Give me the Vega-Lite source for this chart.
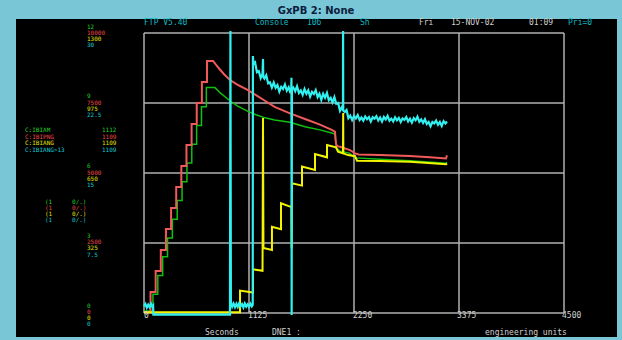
{
"$schema": "https://vega.github.io/schema/vega-lite/v6.json",
"autosize": "none",
"width": 601,
"height": 318,
"padding": {"left": 16, "top": 19, "right": 5, "bottom": 3},
"background": "#78c6d6",
"config": {"view": {"fill": "#000000", "stroke": null}, "text": {"font": "DejaVu Sans Mono", "fontSize": 8}},
"datasets": {
"grid": [
{"t":0,"t2":0,"v":0,"v2":100},{"t":1125,"t2":1125,"v":0,"v2":100},{"t":2250,"t2":2250,"v":0,"v2":100},{"t":3375,"t2":3375,"v":0,"v2":100},{"t":4500,"t2":4500,"v":0,"v2":100},
{"t":0,"t2":4500,"v":0,"v2":0},{"t":0,"t2":4500,"v":25,"v2":25},{"t":0,"t2":4500,"v":50,"v2":50},{"t":0,"t2":4500,"v":75,"v2":75},{"t":0,"t2":4500,"v":100,"v2":100}
],
"green": [
{"t":0,"v":0.7},{"t":96,"v":0.7},{"t":96,"v":6.7},{"t":148,"v":6.7},{"t":148,"v":13.4},{"t":200,"v":13.4},{"t":200,"v":20.1},{"t":252,"v":20.1},{"t":252,"v":26.8},{"t":304,"v":26.8},{"t":304,"v":33.5},{"t":356,"v":33.5},{"t":356,"v":40.2},{"t":408,"v":40.2},{"t":408,"v":46.9},{"t":460,"v":46.9},{"t":460,"v":53.6},{"t":512,"v":53.6},{"t":512,"v":60.3},{"t":564,"v":60.3},{"t":564,"v":67},{"t":616,"v":67},{"t":616,"v":73.7},{"t":668,"v":73.7},{"t":668,"v":80.5},{"t":760,"v":80.5},{"t":820,"v":78.5},{"t":921,"v":75.8},{"t":1000,"v":74.0},{"t":1114,"v":72.0},{"t":1200,"v":70.8},{"t":1296,"v":69.7},{"t":1400,"v":68.9},{"t":1564,"v":68.1},{"t":1725,"v":66.5},{"t":1886,"v":65.4},{"t":2000,"v":64.4},{"t":2046,"v":63.9},{"t":2060,"v":59.0},{"t":2100,"v":57.8},{"t":2200,"v":57.1},{"t":2261,"v":55.4},{"t":2529,"v":54.9},{"t":2850,"v":54.4},{"t":3236,"v":53.5},{"t":3246,"v":53.8}
],
"red": [
{"t":0,"v":0.3},{"t":70,"v":0.3},{"t":70,"v":7.5},{"t":125,"v":7.5},{"t":125,"v":15},{"t":180,"v":15},{"t":180,"v":22.5},{"t":235,"v":22.5},{"t":235,"v":30},{"t":290,"v":30},{"t":290,"v":37.5},{"t":345,"v":37.5},{"t":345,"v":45},{"t":400,"v":45},{"t":400,"v":52.5},{"t":455,"v":52.5},{"t":455,"v":60},{"t":510,"v":60},{"t":510,"v":67.5},{"t":565,"v":67.5},{"t":565,"v":75},{"t":620,"v":75},{"t":620,"v":82.5},{"t":675,"v":82.5},{"t":675,"v":90},{"t":740,"v":90},{"t":800,"v":87.5},{"t":860,"v":85.2},{"t":921,"v":83.2},{"t":1000,"v":81.6},{"t":1114,"v":79.6},{"t":1200,"v":77.8},{"t":1296,"v":75.8},{"t":1400,"v":73.6},{"t":1564,"v":71.3},{"t":1725,"v":69.3},{"t":1886,"v":67.3},{"t":2000,"v":65.6},{"t":2046,"v":64.8},{"t":2057,"v":60.5},{"t":2070,"v":59.6},{"t":2100,"v":59.4},{"t":2207,"v":58.2},{"t":2261,"v":57.0},{"t":2300,"v":56.6},{"t":2529,"v":56.4},{"t":2850,"v":56.1},{"t":3064,"v":55.6},{"t":3236,"v":55.2},{"t":3246,"v":56.3}
],
"yellow": [
{"t":0,"v":0.25},{"t":1029,"v":0.25},{"t":1029,"v":8.0},{"t":1168,"v":7.3},{"t":1168,"v":15.6},{"t":1270,"v":15.1},{"t":1275,"v":69.6},{"t":1280,"v":23.2},{"t":1371,"v":22.5},{"t":1371,"v":30.8},{"t":1468,"v":29.9},{"t":1468,"v":39.2},{"t":1564,"v":38.0},{"t":1580,"v":38.0},{"t":1582,"v":23.1},{"t":1586,"v":46.3},{"t":1693,"v":45.5},{"t":1693,"v":52.3},{"t":1832,"v":51.1},{"t":1832,"v":56.8},{"t":1961,"v":55.6},{"t":1961,"v":60.0},{"t":2057,"v":59.2},{"t":2079,"v":57.6},{"t":2132,"v":57.0},{"t":2134,"v":71.4},{"t":2136,"v":57.0},{"t":2186,"v":56.4},{"t":2261,"v":56.0},{"t":2282,"v":54.4},{"t":2529,"v":54.3},{"t":2850,"v":54.0},{"t":3236,"v":53.1},{"t":3246,"v":53.4}
],
"cyan": [
{"t":0,"v":2.4},{"t":15,"v":3.2},{"t":30,"v":1.9},{"t":45,"v":3.0},{"t":60,"v":2.1},{"t":75,"v":3.3},{"t":90,"v":2.2},{"t":98,"v":2.6},{"t":100,"v":-0.6},{"t":921,"v":-0.6},{"t":926,"v":100.7},{"t":931,"v":3.8},{"t":945,"v":2.3},{"t":960,"v":3.4},{"t":975,"v":2.1},{"t":990,"v":3.3},{"t":1005,"v":2.2},{"t":1020,"v":3.5},{"t":1035,"v":2.4},{"t":1050,"v":3.2},{"t":1065,"v":2.0},{"t":1080,"v":3.4},{"t":1095,"v":2.3},{"t":1110,"v":3.1},{"t":1125,"v":2.2},{"t":1140,"v":3.3},{"t":1155,"v":2.4},{"t":1165,"v":2.9},{"t":1167,"v":91.8},{"t":1172,"v":89.0},
{"t":1190,"v":89.5},{"t":1210,"v":86.0},{"t":1230,"v":86.4},{"t":1250,"v":83.9},{"t":1270,"v":85.5},{"t":1275,"v":90.7},{"t":1278,"v":84.3},{"t":1290,"v":83.7},{"t":1310,"v":84.9},{"t":1330,"v":82.0},{"t":1350,"v":82.4},{"t":1370,"v":80.5},{"t":1390,"v":82.3},{"t":1410,"v":80.4},{"t":1430,"v":81.4},{"t":1450,"v":79.1},{"t":1470,"v":80.8},{"t":1490,"v":80.0},{"t":1510,"v":81.6},{"t":1530,"v":79.4},{"t":1550,"v":80.6},{"t":1570,"v":78.5},{"t":1578,"v":80.5},{"t":1580,"v":84.0},{"t":1582,"v":-0.7},{"t":1585,"v":80.0},
{"t":1600,"v":80.5},{"t":1620,"v":79.2},{"t":1640,"v":81.0},{"t":1660,"v":78.6},{"t":1680,"v":79.5},{"t":1700,"v":77.9},{"t":1720,"v":80.0},{"t":1740,"v":78.3},{"t":1760,"v":79.5},{"t":1780,"v":77.3},{"t":1800,"v":79.0},{"t":1820,"v":78.2},{"t":1840,"v":79.6},{"t":1860,"v":77.1},{"t":1880,"v":78.3},{"t":1900,"v":76.1},{"t":1920,"v":78.3},{"t":1940,"v":76.9},{"t":1960,"v":78.6},{"t":1980,"v":76.0},{"t":2000,"v":76.8},{"t":2020,"v":75.2},{"t":2040,"v":77.1},{"t":2060,"v":74.7},{"t":2080,"v":75.0},{"t":2100,"v":72.2},{"t":2120,"v":73.5},{"t":2132,"v":72.5},{"t":2133,"v":100.7},{"t":2135,"v":72.3},
{"t":2150,"v":71.8},{"t":2170,"v":72.5},{"t":2190,"v":69.6},{"t":2210,"v":70.5},{"t":2230,"v":68.9},{"t":2250,"v":70.4},{"t":2270,"v":69.5},{"t":2290,"v":70.7},{"t":2310,"v":68.9},{"t":2330,"v":69.8},{"t":2350,"v":68.7},{"t":2370,"v":70.2},{"t":2390,"v":69.2},{"t":2410,"v":70.0},{"t":2430,"v":68.4},{"t":2450,"v":69.9},{"t":2470,"v":69.4},{"t":2490,"v":70.3},{"t":2510,"v":68.8},{"t":2530,"v":69.8},{"t":2550,"v":68.4},{"t":2570,"v":70.0},{"t":2590,"v":69.1},{"t":2610,"v":70.4},{"t":2630,"v":68.7},{"t":2650,"v":69.4},{"t":2670,"v":68.4},{"t":2690,"v":69.9},{"t":2710,"v":68.8},{"t":2730,"v":69.7},{"t":2750,"v":68.2},{"t":2770,"v":69.5},{"t":2790,"v":69.0},{"t":2810,"v":70.0},{"t":2830,"v":68.4},{"t":2850,"v":69.4},{"t":2870,"v":68.0},{"t":2890,"v":69.6},{"t":2910,"v":68.8},{"t":2930,"v":70.1},{"t":2950,"v":68.3},{"t":2970,"v":69.1},{"t":2990,"v":67.9},{"t":3010,"v":69.2},{"t":3030,"v":67.5},{"t":3050,"v":68.2},{"t":3070,"v":66.7},{"t":3090,"v":68.2},{"t":3110,"v":67.7},{"t":3130,"v":68.7},{"t":3150,"v":67.2},{"t":3170,"v":68.2},{"t":3190,"v":66.8},{"t":3210,"v":68.5},{"t":3230,"v":67.7},{"t":3246,"v":68.4}
],
"texts": [
{"t":0,"v":103.6,"label":"FTP V5.40","s":"t"},{"t":1189,"v":103.6,"label":"Console","s":"t"},{"t":1746,"v":103.6,"label":"106","s":"t"},{"t":2314,"v":103.6,"label":"Sh","s":"t"},{"t":2946,"v":103.6,"label":"Fri","s":"w"},{"t":3289,"v":103.6,"label":"15-NOV-02","s":"w"},{"t":4125,"v":103.6,"label":"01:09","s":"w"},{"t":4543,"v":103.6,"label":"Pri=0","s":"t"},
{"t":-611,"v":102.25,"label":"12","s":"g"},{"t":-611,"v":100.1,"label":"10000","s":"r"},{"t":-611,"v":97.9,"label":"1300","s":"y"},{"t":-611,"v":95.7,"label":"30","s":"c"},
{"t":-611,"v":77.5,"label":"9","s":"g"},{"t":-611,"v":75.1,"label":"7500","s":"r"},{"t":-611,"v":72.75,"label":"975","s":"y"},{"t":-611,"v":70.7,"label":"22.5","s":"c"},
{"t":-611,"v":52.5,"label":"6","s":"g"},{"t":-611,"v":50.1,"label":"5000","s":"r"},{"t":-611,"v":47.9,"label":"650","s":"y"},{"t":-611,"v":45.7,"label":"15","s":"c"},
{"t":-611,"v":27.5,"label":"3","s":"g"},{"t":-611,"v":25.4,"label":"2500","s":"r"},{"t":-611,"v":23.2,"label":"325","s":"y"},{"t":-611,"v":20.8,"label":"7.5","s":"c"},
{"t":-611,"v":2.6,"label":"0","s":"g"},{"t":-611,"v":0.36,"label":"0","s":"r"},{"t":-611,"v":-1.7,"label":"0","s":"y"},{"t":-611,"v":-3.9,"label":"0","s":"c"},
{"t":-1275,"v":65.18,"label":"C:IBIAM","s":"g"},{"t":-1275,"v":62.86,"label":"C:IBIPNG","s":"r"},{"t":-1275,"v":60.54,"label":"C:IBIANG","s":"y"},{"t":-1275,"v":58.21,"label":"C:IBIANG>13","s":"c"},
{"t":-450,"v":65.18,"label":"1112","s":"g"},{"t":-450,"v":62.86,"label":"1109","s":"r"},{"t":-450,"v":60.54,"label":"1109","s":"y"},{"t":-450,"v":58.21,"label":"1109","s":"c"},
{"t":-1061,"v":39.82,"label":"(1","s":"g"},{"t":-1061,"v":37.57,"label":"(1","s":"r"},{"t":-1061,"v":35.36,"label":"(1","s":"y"},{"t":-1061,"v":33.11,"label":"(1","s":"c"},
{"t":-771,"v":39.82,"label":"0/.)","s":"g"},{"t":-771,"v":37.57,"label":"0/.)","s":"r"},{"t":-771,"v":35.36,"label":"0/.)","s":"y"},{"t":-771,"v":33.11,"label":"0/.)","s":"c"},
{"t":0,"v":-1.1,"label":"0","s":"w"},{"t":1114,"v":-1.1,"label":"1125","s":"w"},{"t":2239,"v":-1.1,"label":"2250","s":"w"},{"t":3354,"v":-1.1,"label":"3375","s":"w"},{"t":4479,"v":-1.1,"label":"4500","s":"w"},
{"t":654,"v":-7.1,"label":"Seconds","s":"w"},{"t":1371,"v":-7.1,"label":"DNE1 :","s":"w"},{"t":3654,"v":-7.1,"label":"engineering units","s":"w"}
],
"title": [{"t":1843,"v":107.9,"label":"GxPB 2: None"}]
},
"encoding": {
"x": {"field": "t", "type": "quantitative", "scale": {"domain": [-1371.4, 5067.9], "nice": false, "zero": false}, "axis": null},
"y": {"field": "v", "type": "quantitative", "scale": {"domain": [-8.571, 105], "nice": false, "zero": false}, "axis": null}
},
"layer": [
{"mark": {"type": "rect", "color": "#ffffff"}, "encoding": {"x": {"datum": -1543, "type": "quantitative"}, "x2": {"datum": -1446}, "y": {"datum": 111.8, "type": "quantitative"}, "y2": {"datum": -9.7}}},
{"mark": {"type": "rect", "color": "#ffffff"}, "encoding": {"x": {"datum": -1543, "type": "quantitative"}, "x2": {"datum": 5122}, "y": {"datum": 111.8, "type": "quantitative"}, "y2": {"datum": 110.75}}},
{"data": {"name": "grid"}, "mark": {"type": "rule", "color": "#b0b0b0", "strokeWidth": 1.5}, "encoding": {"x2": {"field": "t2"}, "y2": {"field": "v2"}}},
{"data": {"name": "green"}, "mark": {"type": "line", "color": "#10c010", "strokeWidth": 1.5}, "encoding": {"order": {"value": null}}},
{"data": {"name": "red"}, "mark": {"type": "line", "color": "#f05a5a", "strokeWidth": 2}, "encoding": {"order": {"value": null}}},
{"data": {"name": "yellow"}, "mark": {"type": "line", "color": "#f4f400", "strokeWidth": 2}, "encoding": {"order": {"value": null}}},
{"data": {"name": "cyan"}, "mark": {"type": "line", "color": "#30f0f0", "strokeWidth": 2.2}, "encoding": {"order": {"value": null}}},
{"data": {"name": "texts"}, "transform": [{"filter": "datum.t >= 0"}], "mark": {"type": "text", "align": "left", "baseline": "middle"}, "encoding": {"text": {"field": "label"}, "color": {"field": "s", "type": "nominal", "legend": null, "scale": {"domain": ["g","r","y","c","t","w"], "range": ["#20d020","#e84848","#e0e000","#10c8d0","#10b8c0","#d0d0d0"]}}}},
{"data": {"name": "texts"}, "transform": [{"filter": "datum.t < 0"}], "mark": {"type": "text", "align": "left", "baseline": "middle", "fontSize": 6}, "encoding": {"text": {"field": "label"}, "color": {"field": "s", "type": "nominal", "legend": null}}},
{"data": {"name": "title"}, "mark": {"type": "text", "align": "center", "baseline": "middle", "font": "DejaVu Sans", "fontSize": 10, "fontWeight": "bold", "color": "#0c1c3c"}, "encoding": {"text": {"field": "label"}}}
]
}
